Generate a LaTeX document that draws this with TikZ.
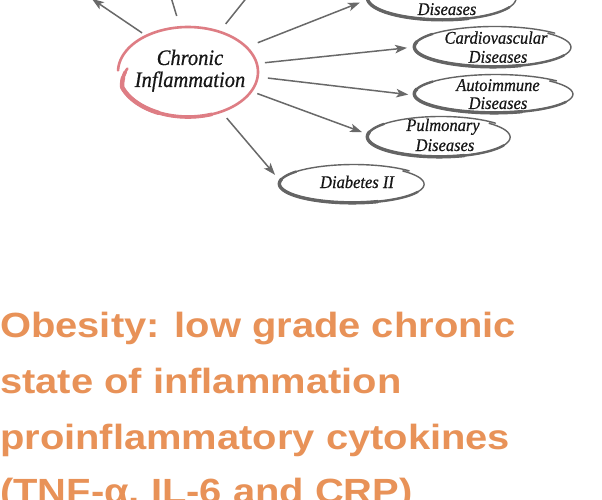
\documentclass[tikz,border=0pt]{standalone}
\usepackage{fontspec}
\setmainfont{Liberation Serif}[ItalicFeatures={FakeBold=0.6}]
\newfontfamily\titlefont{Liberation Sans}
\usetikzlibrary{shapes.geometric,arrows.meta}
\definecolor{pinkring}{RGB}{222,125,132}
\definecolor{ringgray}{RGB}{100,100,100}
\definecolor{arrgray}{RGB}{105,105,105}
\definecolor{titleorange}{RGB}{232,146,88}
\definecolor{labelblack}{RGB}{22,22,22}
\newcommand\brushring[5]{%
  \draw[#5,line width=1.4pt,line cap=round] plot[domain=-45:318,samples=110,smooth]
    ({#1+#3*(0.965+0.07*(\x+45)/363)*cos(\x)},{#2+#4*(0.965+0.07*(\x+45)/363)*sin(\x)});
  \draw[#5,line width=2.4pt,line cap=round] plot[domain=25:220,samples=60,smooth]
    ({#1+#3*(0.965+0.07*(\x+45)/363)*cos(\x)},{#2+#4*(0.965+0.07*(\x+45)/363)*sin(\x)});
  \draw[#5,line width=3.4pt,line cap=round] plot[domain=70:195,samples=50,smooth]
    ({#1+#3*(0.965+0.07*(\x+45)/363)*cos(\x)},{#2+#4*(0.965+0.07*(\x+45)/363)*sin(\x)});
}
\tikzset{
  ell/.style={shape=ellipse,draw=none,inner sep=0pt,outer sep=0pt},
  arr/.style={draw=arrgray,line width=1.5pt,-{Stealth[length=12pt,width=8.5pt,inset=3pt]}},
  lbl/.style={anchor=base,inner sep=0pt,text=labelblack,font=\itshape\fontsize{16.5pt}{18pt}\selectfont},
  biglbl/.style={anchor=base,inner sep=0pt,text=labelblack,font=\itshape\fontsize{20.5pt}{22pt}\selectfont},
  ttl/.style={anchor=base west,inner sep=0pt,text=titleorange,font=\titlefont\bfseries\fontsize{35pt}{40pt}\selectfont}
}
\begin{document}
\begin{tikzpicture}[x=1pt,y=-1pt]
\useasboundingbox (0,0) rectangle (602,500);
\clip (0,0) rectangle (602,500);
\fill[white] (0,0) rectangle (602,500);

% central ellipse
\node[ell,minimum width=140pt,minimum height=90pt] (ci) at (188,72) {};
\draw[pinkring,line width=2.6pt,line cap=round] plot[domain=185:-178,samples=140,smooth]
  ({188+70*(1-0.13*max(0,(\x-160)/25))*cos(\x)},{72+45*(1-0.13*max(0,(\x-160)/25))*sin(\x)});
\draw[pinkring,line width=3.6pt,line cap=round] plot[domain=180:70,samples=50,smooth]
  ({188+70*(1-0.13*max(0,(\x-160)/25))*cos(\x)},{72+45*(1-0.13*max(0,(\x-160)/25))*sin(\x)});
\draw[pinkring,line width=4.4pt,line cap=round] plot[domain=172:115,samples=30,smooth]
  ({188+70*(1-0.13*max(0,(\x-160)/25))*cos(\x)},{72+45*(1-0.13*max(0,(\x-160)/25))*sin(\x)});
\node[biglbl] (cit1) at (190,65) {\scalebox{1}[1.08]{Chronic}};
\node[biglbl] (cit2) at (190,87) {\scalebox{1}[1.08]{Inflammation}};

% disease ellipses
\node[ell,minimum width=150pt,minimum height=44pt] (te) at (443,-2) {};
\brushring{443}{-2}{75}{22}{ringgray}
\node[lbl] (tet) at (447,15) {\scalebox{1}[1.08]{Diseases}};

\node[ell,minimum width=158pt,minimum height=40pt] (cv) at (494,47) {};
\brushring{494}{47}{79}{20}{ringgray}
\node[lbl] (cvt1) at (496,43.7) {\scalebox{1}[1.08]{Cardiovascular}};
\node[lbl] (cvt2) at (498,62.7) {\scalebox{1}[1.08]{Diseases}};

\node[ell,minimum width=160pt,minimum height=38pt] (au) at (495,94) {};
\brushring{495}{94}{80}{19}{ringgray}
\node[lbl] (aut1) at (498,91) {\scalebox{1}[1.08]{Autoimmune}};
\node[lbl] (aut2) at (498,109) {\scalebox{1}[1.08]{Diseases}};

\node[ell,minimum width=144pt,minimum height=40pt] (pu) at (440,137) {};
\brushring{440}{137}{72}{20}{ringgray}
\node[lbl] (put1) at (443,131) {\scalebox{1}[1.08]{Pulmonary}};
\node[lbl] (put2) at (445,151) {\scalebox{1}[1.08]{Diseases}};

\node[ell,minimum width=146pt,minimum height=38pt] (di) at (353,184) {};
\brushring{353}{184}{73}{19}{ringgray}
\node[lbl] (dit) at (357,188) {\scalebox{1}[1.08]{Diabetes II}};

% connectors
\coordinate (u1) at (92,-1);
\coordinate (u2) at (167.6,-14);
\coordinate (u3) at (256,-14);
\draw[arr,shorten <=5.2pt] (ci.139) -- (u1);
\draw[arr,shorten <=11.8pt] (ci.100) -- (u2);
\draw[arr,shorten <=10pt] (ci.52) -- (u3);
\draw[arr,shorten <=12.2pt,shorten >=8.8pt] (ci.23) -- (te.181);
\draw[arr,shorten <=8.2pt,shorten >=8pt] (ci.7) -- (cv.180);
\draw[arr,shorten <=10.4pt,shorten >=7pt] (ci.-4) -- (au.181);
\draw[arr,shorten <=6.5pt,shorten >=7pt] (ci.-17) -- (pu.178);
\draw[arr,shorten <=8.5pt,shorten >=8.7pt] (ci.-50) -- (di.178);

% title
\node[ttl] (l1) at (0,337) {\scalebox{1.14}[1]{Obesity: low grade chronic}};
\node[ttl] (l2) at (0,393) {\scalebox{1.14}[1]{state of inflammation}};
\node[ttl] (l3) at (0,449) {\scalebox{1.14}[1]{proinflammatory cytokines}};
\node[ttl] (l4) at (0,503) {\scalebox{1.14}[1]{(TNF-α, IL-6 and CRP)}};
\end{tikzpicture}
\end{document}
